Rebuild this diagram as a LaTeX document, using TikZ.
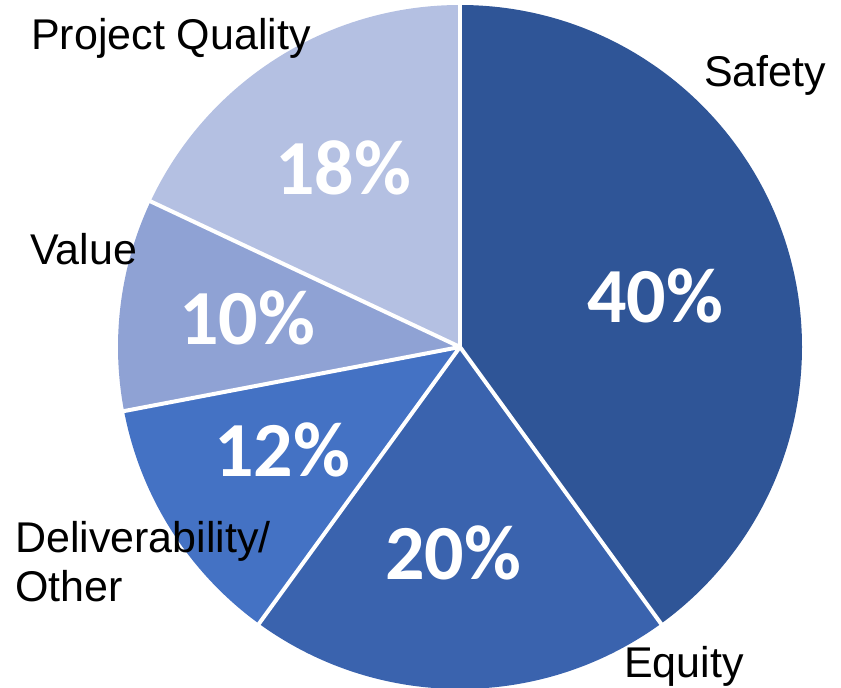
\documentclass[tikz,border=0pt]{standalone}
\usepackage{fontspec}
\setmainfont{Liberation Sans}
\newfontfamily\pctfont{Carlito}
\definecolor{cSafety}{RGB}{47,85,151}
\definecolor{cEquity}{RGB}{58,99,174}
\definecolor{cDeliv}{RGB}{68,114,196}
\definecolor{cValue}{RGB}{143,162,212}
\definecolor{cQuality}{RGB}{180,192,226}
\begin{document}
\begin{tikzpicture}[x=1pt,y=1pt,
  lbl/.style={anchor=base west,inner sep=0pt,font=\fontsize{43}{50}\selectfont,text=black},
  pct/.style={anchor=base,inner sep=0pt,font=\pctfont\bfseries\fontsize{78}{90}\selectfont,text=white},
  sep/.style={draw=white,line width=4pt}]
\useasboundingbox (0,0) rectangle (841,688);
\def\R{342}
\coordinate (c) at (460,341);
\fill[cSafety]  (c) -- ++(90:\R)    arc[start angle=90,end angle=-54,radius=\R] -- cycle;
\fill[cEquity]  (c) -- ++(-54:\R)   arc[start angle=-54,end angle=-126,radius=\R] -- cycle;
\fill[cDeliv]   (c) -- ++(-126:\R)  arc[start angle=-126,end angle=-169.2,radius=\R] -- cycle;
\fill[cValue]   (c) -- ++(-169.2:\R) arc[start angle=-169.2,end angle=-205.2,radius=\R] -- cycle;
\fill[cQuality] (c) -- ++(-205.2:\R) arc[start angle=-205.2,end angle=-270,radius=\R] -- cycle;
\foreach \a in {90,-54,-126,-169.2,-205.2}
  \draw[sep] (c) -- ++(\a:\R+2);
\node[pct] (p40) at (655,365) {40\%};
\node[pct] (p20) at (453,108) {20\%};
\node[pct] (p12) at (282,211) {12\%};
\node[pct] (p10) at (247,343) {10\%};
\node[pct] (p18) at (343,493) {18\%};
\node[lbl] (lq) at (31,638) {Project Quality};
\node[lbl] (ls) at (704,601) {Safety};
\node[lbl] (lv) at (30,423) {Value};
\node[lbl] (ld) at (15,135) {Deliverability/};
\node[lbl] (lo) at (15,86) {Other};
\node[lbl] (le) at (624,10) {Equity};
\end{tikzpicture}
\end{document}
